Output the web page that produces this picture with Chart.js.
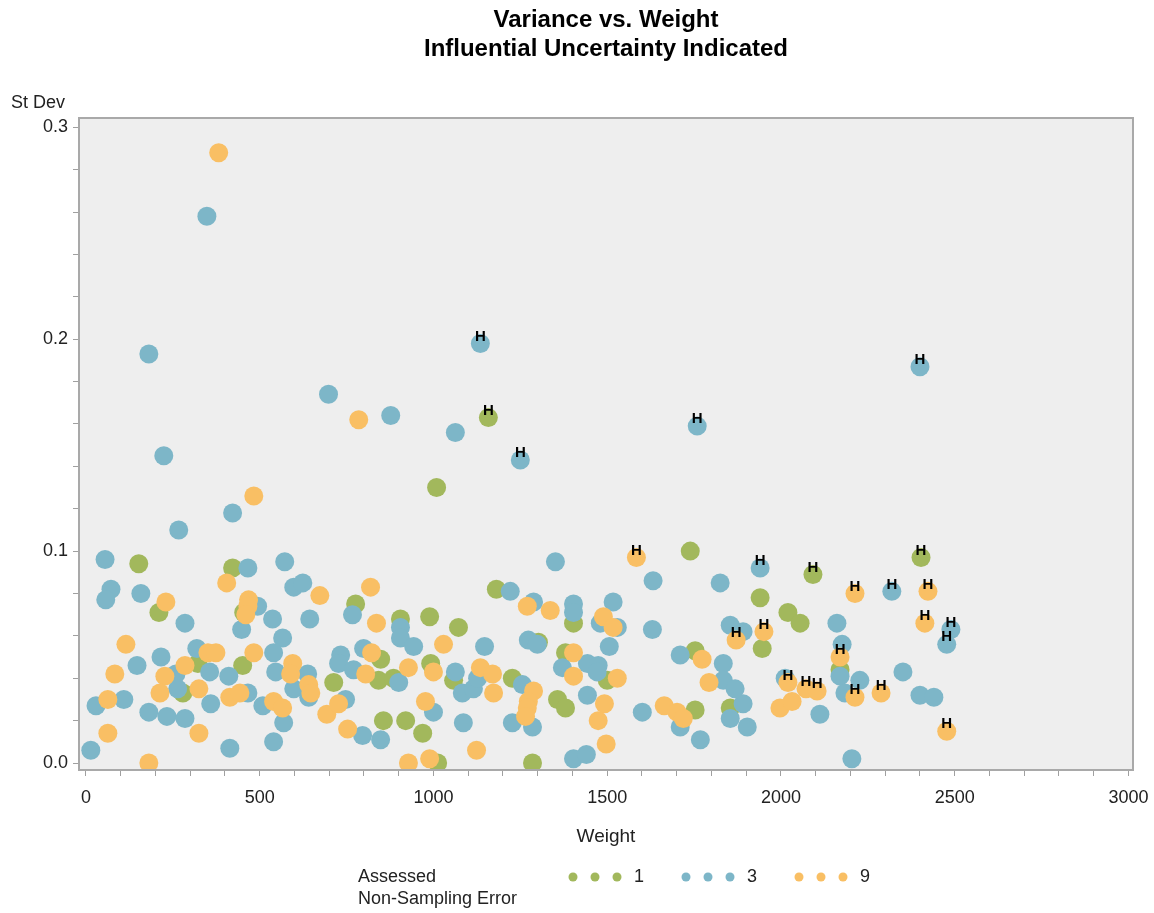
<!DOCTYPE html>
<html>
<head>
<meta charset="utf-8">
<script src="https://cdn.jsdelivr.net/npm/chart.js@4/dist/chart.umd.min.js"></script>
<style>
  body { margin: 0; background: #fff; }
  canvas { display: block; }
</style>
</head>
<body>
<canvas id="c" width="1154" height="913"></canvas>
<script>
// points are [weight, st dev]
const green1 = [
  [152,0.094],[210,0.071],[422,0.092],[454,0.071],[322,0.047],[279,0.033],[451,0.046],[776,0.075],
  [848,0.049],[842,0.039],[713,0.038],[856,0.020],[905,0.068],[920,0.020],[1009,0.130],[1739,0.100],
  [1940,0.078],[2020,0.071],[2055,0.066],[1946,0.054],[2170,0.044],[1181,0.082],[1403,0.066],[989,0.069],
  [1072,0.064],[1380,0.052],[1500,0.039],[1753,0.053],[1058,0.039],[885,0.040],[992,0.047],[1227,0.040],
  [1357,0.030],[1380,0.026],[1753,0.025],[1854,0.026],[969,0.014],[1012,0.000],[1285,0.000],[1302,0.057]
];
const green1H = [[1158,0.163],[2092,0.089],[2403,0.097]];

const blue3 = [
  [55,0.096],[72,0.082],[57,0.077],[158,0.080],[267,0.110],[422,0.118],[466,0.092],[572,0.095],
  [598,0.083],[624,0.085],[285,0.066],[767,0.070],[644,0.068],[537,0.068],[494,0.074],[448,0.063],
  [566,0.059],[540,0.052],[546,0.043],[319,0.054],[216,0.050],[147,0.046],[259,0.042],[356,0.043],
  [411,0.041],[264,0.035],[359,0.028],[466,0.033],[509,0.027],[638,0.042],[598,0.035],[641,0.031],
  [733,0.051],[727,0.047],[799,0.054],[770,0.044],[905,0.064],[905,0.059],[900,0.038],[29,0.027],
  [109,0.030],[181,0.024],[233,0.022],[285,0.021],[569,0.019],[796,0.013],[848,0.011],[14,0.006],
  [414,0.007],[540,0.010],[747,0.030],
  [348,0.258],[181,0.193],[224,0.145],[698,0.174],[877,0.164],[1063,0.156],
  [1351,0.095],[1632,0.086],[1825,0.085],[1517,0.076],[1403,0.075],[1403,0.071],[1288,0.076],[1221,0.081],
  [1630,0.063],[1480,0.066],[1529,0.064],[1854,0.065],[1891,0.062],
  [943,0.055],[1273,0.058],[1299,0.056],[1147,0.055],[1506,0.055],[1371,0.045],[1443,0.047],[1474,0.046],
  [1471,0.043],[1710,0.051],[1063,0.043],[1083,0.033],[1115,0.035],[1127,0.040],[1256,0.037],[1227,0.019],
  [1285,0.017],[1443,0.032],[1601,0.024],[1710,0.017],[1768,0.011],[1854,0.021],[1891,0.028],[1903,0.017],
  [1834,0.047],[1834,0.039],[1868,0.035],[1000,0.024],[1086,0.019],[1403,0.002],[1440,0.004],
  [2161,0.066],[2176,0.056],[2170,0.041],[2227,0.039],[2184,0.033],[2012,0.040],[2112,0.023],[2351,0.043],
  [2400,0.032],[2440,0.031],[2204,0.002]
];
const blue3H = [[1135,0.198],[1250,0.143],[1759,0.159],[2400,0.187],[1940,0.092],[2319,0.081],[2489,0.063],[2477,0.056]];

const orange9 = [
  [382,0.288],[483,0.126],[785,0.162],[405,0.085],[230,0.076],[468,0.077],[466,0.074],[460,0.070],
  [673,0.079],[819,0.083],[836,0.066],[115,0.056],[83,0.042],[227,0.041],[285,0.046],[351,0.052],
  [374,0.052],[483,0.052],[595,0.047],[589,0.042],[822,0.052],[805,0.042],[213,0.033],[325,0.035],
  [414,0.031],[443,0.033],[641,0.037],[647,0.033],[540,0.029],[566,0.026],[63,0.030],[63,0.014],
  [325,0.014],[693,0.023],[727,0.028],[753,0.016],[181,0.000],
  [1336,0.072],[1270,0.074],[1489,0.069],[1517,0.064],[1029,0.056],[1403,0.052],[1403,0.041],[1529,0.040],
  [1773,0.049],[1793,0.038],[1135,0.045],[1170,0.042],[928,0.045],[1000,0.043],[1288,0.034],[1273,0.029],
  [1270,0.026],[1173,0.033],[977,0.029],[1265,0.022],[1492,0.028],[1474,0.020],[1664,0.027],[1701,0.024],
  [1719,0.021],[1997,0.026],[2032,0.029],[1124,0.006],[928,0.000],[989,0.002],[1497,0.009]
];
const orange9H = [
  [1584,0.097],[2213,0.080],[2423,0.081],[2414,0.066],[2170,0.050],[1871,0.058],[1951,0.062],
  [2020,0.038],[2072,0.035],[2104,0.034],[2213,0.031],[2288,0.033],[2477,0.015]
];

const groupLabels = ['1', '3', '9'];
const groupColors = ['#A2B85C', '#7DB6C8', '#F9BF64'];

const FONT = '"Liberation Sans", Arial, sans-serif';
Chart.defaults.font.family = FONT;
Chart.defaults.color = '#222';

// plain points plus the flagged (H) ones
function toPoints(plain, flagged) {
  let pts = [];
  for (let i = 0; i < plain.length; i++) pts.push({x: plain[i][0], y: plain[i][1], h: false});
  for (let i = 0; i < flagged.length; i++) pts.push({x: flagged[i][0], y: flagged[i][1], h: true});
  return pts;
}

const groups = [toPoints(green1, green1H), toPoints(blue3, blue3H), toPoints(orange9, orange9H)];
const drawOrder = [3, 2, 1]; // orange ends up on top

let datasets = [];
for (let i = 0; i < groups.length; i++) {
  datasets.push({
    label: groupLabels[i],
    data: groups[i],
    backgroundColor: groupColors[i],
    borderWidth: 0,
    pointRadius: 9.5,
    pointHoverRadius: 9.5,
    order: drawOrder[i]
  });
}

// plot background, frame, H marks, y label and the legend
const decorations = {
  id: 'decorations',
  beforeDraw(chart) {
    const {ctx, chartArea: a} = chart;
    ctx.save();
    ctx.fillStyle = '#fff';
    ctx.fillRect(0, 0, chart.width, chart.height);
    ctx.fillStyle = '#EEEEEE';
    ctx.fillRect(a.left, a.top, a.right - a.left, a.bottom - a.top);
    ctx.restore();
  },
  afterDatasetsDraw(chart) {
    const ctx = chart.ctx;
    ctx.save();
    ctx.font = 'bold 15px ' + FONT;
    ctx.fillStyle = '#000';
    ctx.textAlign = 'center';
    ctx.textBaseline = 'middle';
    chart.data.datasets.forEach((ds, i) => {
      const meta = chart.getDatasetMeta(i);
      meta.data.forEach((el, j) => {
        if (ds.data[j].h) ctx.fillText('H', el.x, el.y - 7);
      });
    });
    ctx.restore();
  },
  afterDraw(chart) {
    const {ctx, chartArea: a} = chart;
    ctx.save();
    ctx.strokeStyle = '#A9A9A9';
    ctx.lineWidth = 2;
    ctx.strokeRect(a.left, a.top, a.right - a.left, a.bottom - a.top);

    ctx.fillStyle = '#222';
    ctx.font = '18px ' + FONT;
    ctx.textAlign = 'left';
    ctx.textBaseline = 'middle';
    ctx.fillText('St Dev', 11, 103);

    // legend
    ctx.fillText('Assessed', 358, 877);
    ctx.fillText('Non-Sampling Error', 358, 899);
    chart.data.datasets.forEach((ds, i) => {
      const x0 = 573 + i * 113;
      ctx.fillStyle = ds.backgroundColor;
      for (let k = 0; k < 3; k++) {
        ctx.beginPath();
        ctx.arc(x0 + k * 22, 877, 4.5, 0, Math.PI * 2);
        ctx.fill();
      }
      ctx.fillStyle = '#222';
      ctx.fillText(ds.label, x0 + 61, 877);
    });
    ctx.restore();
  }
};

new Chart(document.getElementById('c'), {
  type: 'scatter',
  data: { datasets: datasets },
  options: {
    responsive: false,
    animation: false,
    devicePixelRatio: 1,
    layout: { padding: { left: 0, right: 21, top: 0, bottom: 53 } },
    plugins: {
      legend: { display: false },
      tooltip: { enabled: false },
      title: {
        display: true,
        fullSize: false,
        text: ['Variance vs. Weight', 'Influential Uncertainty Indicated'],
        color: '#000',
        font: { size: 24, weight: 'bold' },
        padding: { top: 6, bottom: 54.4 }
      }
    },
    scales: {
      x: {
        type: 'linear',
        min: -20,
        max: 3013,
        afterFit(s) { s.height = 90; s.paddingLeft = 0; s.paddingRight = 0; },
        border: { display: false },
        grid: { drawOnChartArea: false, tickLength: 6, tickColor: '#A0A0A0' },
        ticks: {
          stepSize: 100,
          includeBounds: false,
          autoSkip: false,
          maxRotation: 0,
          padding: 11,
          font: { size: 18 },
          callback: (v) => (v % 500 === 0 ? String(v) : '')
        },
        title: {
          display: true,
          text: 'Weight',
          font: { size: 19 },
          padding: { top: 0, bottom: 12 }
        }
      },
      y: {
        min: -0.0033,
        max: 0.3044,
        afterFit(s) { s.width = 79; s.paddingTop = 0; s.paddingBottom = 0; },
        border: { display: false },
        grid: { drawOnChartArea: false, tickLength: 6, tickColor: '#A0A0A0' },
        ticks: {
          stepSize: 0.02,
          includeBounds: false,
          autoSkip: false,
          padding: 5,
          font: { size: 18 },
          callback: (v) => {
            const t = Math.round(v * 100);
            return t % 10 === 0 ? (t / 100).toFixed(1) : '';
          }
        }
      }
    }
  },
  plugins: [decorations]
});
</script>
</body>
</html>
